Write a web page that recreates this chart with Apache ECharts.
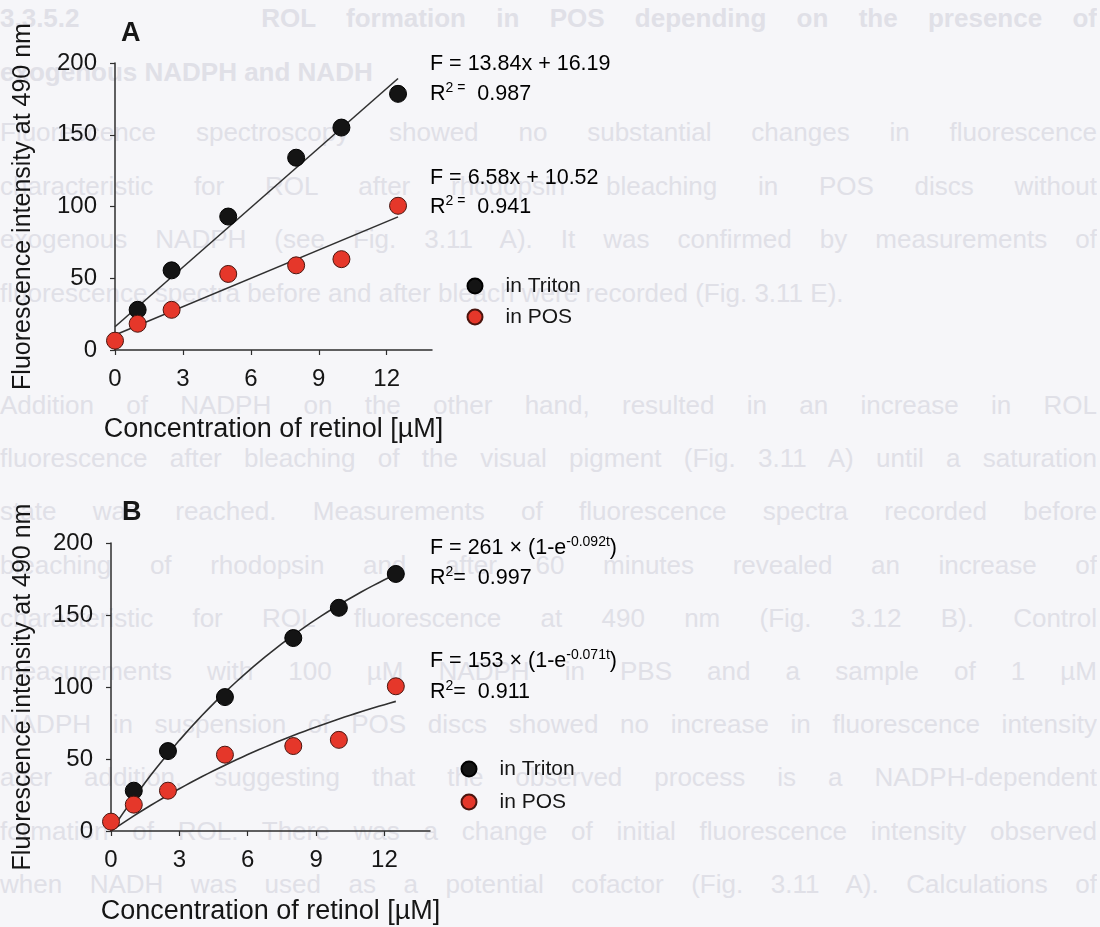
<!DOCTYPE html>
<html>
<head>
<meta charset="utf-8">
<title>Retinol fluorescence in Triton and POS</title>
<script src="https://cdn.jsdelivr.net/npm/echarts@6/dist/echarts.min.js"></script>
<style>
  html, body { margin: 0; padding: 0; background: #f6f6f9; }
  #page { position: relative; width: 1100px; height: 927px; overflow: hidden; background: #f6f6f9; }
  #prose { position: absolute; left: 0; top: 0; width: 1100px; height: 927px;
           font-family: "Liberation Sans", Arial, Helvetica, sans-serif; font-size: 26px; color: #e0e0e7; }
  #prose div { position: absolute; left: 0; width: 1097px; height: 30px; line-height: 30px;
               white-space: nowrap; overflow: hidden; }
  #prose div.j { text-align: justify; text-align-last: justify; white-space: normal; }
  #prose div.h { font-weight: bold; }
  #chart { position: absolute; left: 0; top: 0; width: 1100px; height: 927px; }
</style>
</head>
<body>
<div id="page">
  <div id="prose"></div>
  <div id="chart"></div>
</div>
<script>
// ---- measured data (retinol concentration in µM, fluorescence at 490 nm) ----
const concentrations = [0, 1, 2.5, 5, 8, 10, 12.5];
const tritonValues   = [null, 28, 55.5, 93, 134, 155, 178.5];
const posValues      = [6.5, 18.3, 28, 53, 59, 63.3, 100.5];

// ---- fitted models as printed on the panels ----
const tritonLinear = [13.84, 16.19];   // F = a·x + b
const posLinear    = [6.58, 10.52];
const tritonExp    = [261, 0.092];     // F = A·(1 − e^(−k·t))
const posExp       = [153, 0.071];
const rSquaredA    = ['0.987', '0.941'];
const rSquaredB    = ['0.997', '0.911'];

// ---- axis ticks ----
const xTicks = [0, 3, 6, 9, 12];
const yTicks = [0, 50, 100, 150, 200];
const seriesNames = ['in Triton', 'in POS'];

// ---- page text running behind the figure ----
const headingLines = [
  '3.3.5.2\u00a0\u00a0\u00a0\u00a0\u00a0 ROL formation in POS depending on the presence of',
  'exogenous NADPH and NADH'
];
const upperParagraph = [
  'Fluorescence spectroscopy showed no substantial changes in fluorescence',
  'characteristic for ROL after rhodopsin bleaching in POS discs without',
  'exogenous NADPH (see Fig. 3.11 A). It was confirmed by measurements of',
  'fluorescence spectra before and after bleach were recorded (Fig. 3.11 E).'
];
const lowerParagraph = [
  'Addition of NADPH on the other hand, resulted in an increase in ROL',
  'fluorescence after bleaching of the visual pigment (Fig. 3.11 A) until a saturation',
  'state was reached. Measurements of fluorescence spectra recorded before',
  'bleaching of rhodopsin and after 60 minutes revealed an increase of',
  'characteristic for ROL fluorescence at 490 nm (Fig. 3.12 B). Control',
  'measurements with 100 µM NADPH in PBS and a sample of 1 µM',
  'NADPH in suspension of POS discs showed no increase in fluorescence intensity',
  'after addition, suggesting that the observed process is a NADPH-dependent',
  'formation of ROL. There was a change of initial fluorescence intensity observed',
  'when NADH was used as a potential cofactor (Fig. 3.11 A). Calculations of'
];

(function drawProse() {
  const box = document.getElementById('prose');
  function put(text, centerY, cls) {
    const d = document.createElement('div');
    d.className = cls;
    d.textContent = text;
    d.style.top = (centerY - 15) + 'px';
    box.appendChild(d);
  }
  put(headingLines[0], 18, 'h j');
  put(headingLines[1], 72, 'h');
  upperParagraph.forEach((t, i) => put(t, 132 + i * 53.5, i === upperParagraph.length - 1 ? '' : 'j'));
  lowerParagraph.forEach((t, i) => put(t, 405 + i * 53.2, 'j'));
})();

// ---- helpers that turn the arrays into plot data ----
function pairs(xs, ys) {
  const out = [];
  xs.forEach((x, i) => { if (ys[i] !== null) out.push([x, ys[i]]); });
  return out;
}
const xEnd = concentrations[concentrations.length - 1];
function linearCurve(coef) {
  return [[0, coef[1]], [xEnd, coef[0] * xEnd + coef[1]]];
}
function expCurve(coef) {
  const pts = [];
  for (let i = 0; i <= 50; i++) {
    const t = xEnd * i / 50;
    pts.push([t, coef[0] * (1 - Math.exp(-coef[1] * t))]);
  }
  return pts;
}

const FONT = "'Liberation Sans', Arial, Helvetica, sans-serif";
const INK = '#161616';
const AXIS = '#2e2e2e';
const BLACK_DOT = { color: '#141414', borderColor: '#000000', borderWidth: 1, opacity: 1 };
const RED_DOT = { color: '#e5372a', borderColor: '#4a140e', borderWidth: 1, opacity: 1 };

function xAxisFor(gi, gap) {
  return {
    type: 'value', gridIndex: gi, min: 0, max: 14,
    name: 'Concentration of retinol [µM]', nameLocation: 'middle', nameGap: gap,
    nameTextStyle: { fontFamily: FONT, fontSize: 27, color: INK },
    axisLine: { show: true, onZero: false, lineStyle: { color: AXIS, width: 1.5 } },
    axisTick: { show: true, customValues: xTicks, length: 5, lineStyle: { color: AXIS, width: 1.2 } },
    axisLabel: { customValues: xTicks, margin: 17, fontFamily: FONT, fontSize: 24, color: INK },
    splitLine: { show: false }
  };
}
function yAxisFor(gi, gap) {
  return {
    type: 'value', gridIndex: gi, min: 0, max: 200, interval: 50,
    name: 'Fluorescence intensity at 490 nm', nameLocation: 'middle', nameGap: gap,
    nameTextStyle: { fontFamily: FONT, fontSize: 25, color: INK },
    axisLine: { show: true, onZero: false, lineStyle: { color: AXIS, width: 1.5 } },
    axisTick: { show: true, customValues: yTicks, length: 5, lineStyle: { color: AXIS, width: 1.2 } },
    axisLabel: { customValues: yTicks, margin: 18, fontFamily: FONT, fontSize: 24, color: INK },
    splitLine: { show: false }
  };
}

function fitSeries(gi, name, data) {
  return {
    name: name, type: 'line', xAxisIndex: gi, yAxisIndex: gi, data: data,
    showSymbol: false, symbol: 'none', smooth: false, silent: true, z: 2,
    lineStyle: { color: '#303030', width: 1.6 }
  };
}
function dotSeries(gi, name, ys, style) {
  return {
    name: name, type: 'scatter', xAxisIndex: gi, yAxisIndex: gi,
    data: pairs(concentrations, ys), symbol: 'circle', symbolSize: 17,
    itemStyle: style, clip: false, z: 3
  };
}

const richBase = {
  b: { fontFamily: FONT, fontSize: 21.5, color: INK, lineHeight: 26 },
  s: { fontFamily: FONT, fontSize: 14, color: INK, verticalAlign: 'top', lineHeight: 16 }
};
function eqText(x, y, text) {
  return { type: 'text', x: x, y: y, z: 10,
    style: { text: text, rich: richBase, verticalAlign: 'middle', align: 'left' } };
}

const legendText = { fontFamily: FONT, fontSize: 21, color: INK, lineHeight: 22, padding: [0, 0, 0, 18] };

const option = {
  backgroundColor: 'transparent',
  animation: false,
  grid: [
    { left: 115, top: 63, width: 317, height: 287 },
    { left: 111, top: 543, width: 319, height: 288 }
  ],
  xAxis: [xAxisFor(0, 66), xAxisFor(1, 67)],
  yAxis: [yAxisFor(0, 79), yAxisFor(1, 75)],
  legend: [
    { data: seriesNames, orient: 'vertical', left: 461.5, top: 270, icon: 'circle',
      itemWidth: 15, itemHeight: 15, itemGap: 9, selectedMode: false, textStyle: legendText },
    { data: seriesNames, orient: 'vertical', left: 455.5, top: 753, icon: 'circle',
      itemWidth: 15, itemHeight: 15, itemGap: 11, selectedMode: false, textStyle: legendText }
  ],
  series: [
    fitSeries(0, 'Triton linear fit', linearCurve(tritonLinear)),
    fitSeries(0, 'POS linear fit', linearCurve(posLinear)),
    dotSeries(0, seriesNames[0], tritonValues, BLACK_DOT),
    dotSeries(0, seriesNames[1], posValues, RED_DOT),
    fitSeries(1, 'Triton exponential fit', expCurve(tritonExp)),
    fitSeries(1, 'POS exponential fit', expCurve(posExp)),
    dotSeries(1, seriesNames[0], tritonValues, BLACK_DOT),
    dotSeries(1, seriesNames[1], posValues, RED_DOT)
  ],
  graphic: [
    { type: 'text', x: 121, y: 34, style: { text: 'A', fontFamily: FONT, fontWeight: 'bold', fontSize: 27, fill: INK, verticalAlign: 'middle' } },
    { type: 'text', x: 122, y: 513, style: { text: 'B', fontFamily: FONT, fontWeight: 'bold', fontSize: 27, fill: INK, verticalAlign: 'middle' } },
    eqText(430, 64, '{b|F = ' + tritonLinear[0] + 'x + ' + tritonLinear[1] + '}'),
    eqText(430, 94, '{b|R}{s|2 =}{b|  ' + rSquaredA[0] + '}'),
    eqText(430, 178, '{b|F = ' + posLinear[0] + 'x + ' + posLinear[1] + '}'),
    eqText(430, 207, '{b|R}{s|2 =}{b|  ' + rSquaredA[1] + '}'),
    eqText(430, 548, '{b|F = ' + tritonExp[0] + ' × (1-e}{s|-' + tritonExp[1] + 't}{b|)}'),
    eqText(430, 578, '{b|R}{s|2}{b|=  ' + rSquaredB[0] + '}'),
    eqText(430, 661, '{b|F = ' + posExp[0] + ' × (1-e}{s|-' + posExp[1] + 't}{b|)}'),
    eqText(430, 692, '{b|R}{s|2}{b|=  ' + rSquaredB[1] + '}')
  ]
};

const chart = echarts.init(document.getElementById('chart'), null, { renderer: 'canvas' });
chart.setOption(option);
</script>
</body>
</html>
